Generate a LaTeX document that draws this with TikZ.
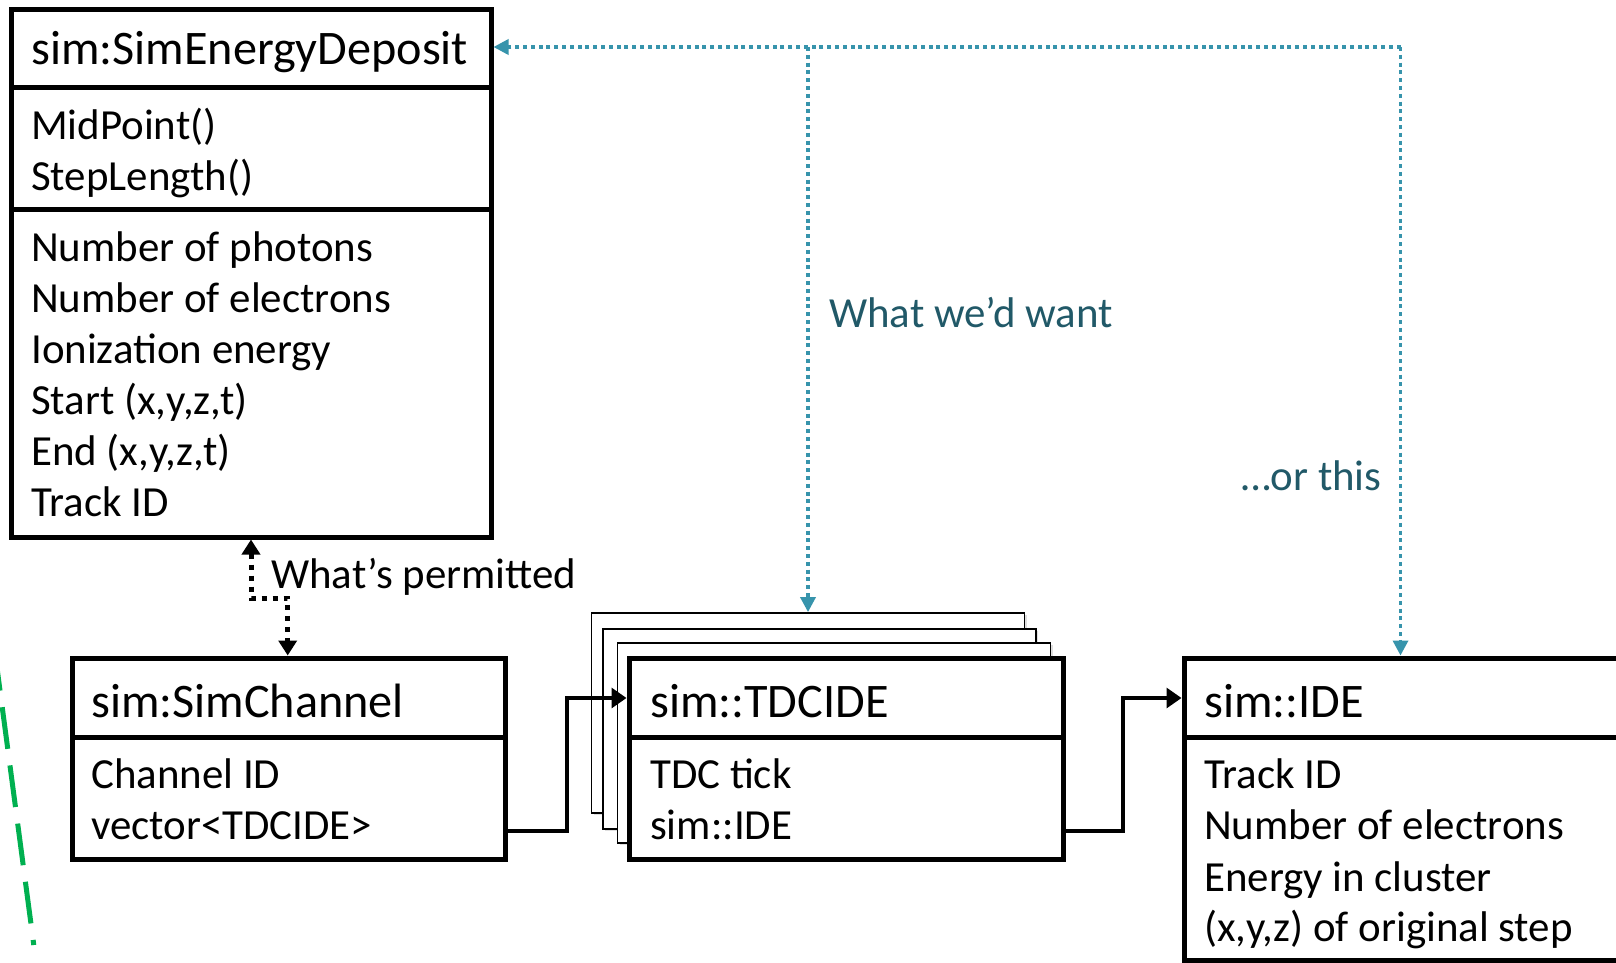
\documentclass[tikz,border=0pt]{standalone}
\usepackage{fontspec}
\setmainfont{Carlito}
\usetikzlibrary{arrows.meta,shadows}
\definecolor{tealtext}{RGB}{33,89,104}
\definecolor{tealline}{RGB}{55,148,172}
\definecolor{dashgreen}{RGB}{0,176,80}

\begin{document}
\begin{tikzpicture}[x=1pt,y=-1pt,
  classbox/.style={draw=black,line width=5pt,fill=white,inner sep=0pt},
  sheet/.style={draw=black,line width=1.8pt,fill=white,inner sep=0pt,
    minimum width=433pt,minimum height=200pt,
    drop shadow={shadow xshift=2pt,shadow yshift=-2pt,opacity=0.25}},
  divider/.style={line width=5pt},
  head/.style={anchor=base west,inner sep=0pt,font=\fontsize{48.2pt}{57pt}\selectfont},
  body/.style={anchor=base west,inner sep=0pt,font=\fontsize{42.9pt}{51pt}\selectfont},
  note/.style={body,text=tealtext},
  flow/.style={line width=3.2pt,-{Triangle[length=15pt,width=20pt]}},
  permit/.style={line width=5pt,dash pattern=on 5.5pt off 5.5pt,
    {Triangle[length=15pt,width=18pt]}-{Triangle[length=15pt,width=18pt]}},
  wish/.style={draw=tealline,line width=3.4pt,dash pattern=on 3.9pt off 3.9pt,
    -{Triangle[length=15pt,width=15pt]}},
]
\useasboundingbox (0,0) rectangle (1616,962);
\clip (0,0) rectangle (1616,962);
\fill[white] (0,0) rectangle (1616,962);

% ---------- sim:SimEnergyDeposit ----------
\node[classbox,minimum width=480pt,minimum height=527.5pt] (sed) at (251,273.25) {};
\draw[divider] (11,87) -- (491,87);
\draw[divider] (11,209) -- (491,209);
\node[head] (sedT) at (31,64) {sim:SimEnergyDeposit};
\node[body] (sedM1) at (31,139) {MidPoint()};
\node[body] (sedM2) at (31,190.5) {StepLength()};
\node[body] (sedA1) at (31,261.5) {Number of photons};
\node[body] (sedA2) at (31,312.5) {Number of electrons};
\node[body] (sedA3) at (31,363.5) {Ionization energy};
\node[body] (sedA4) at (31,414.5) {Start (x,y,z,t)};
\node[body] (sedA5) at (31,465.5) {End (x,y,z,t)};
\node[body] (sedA6) at (31,516.5) {Track ID};

% ---------- sim:SimChannel ----------
\node[classbox,minimum width=433pt,minimum height=201pt] (sch) at (288.5,758.5) {};
\draw[divider] (72,737) -- (505,737);
\node[head] (schT) at (91,717) {sim:SimChannel};
\node[body] (schA1) at (91,788) {Channel ID};
\node[body] (schA2) at (91,839.5) {vector<TDCIDE>};

% ---------- sim::TDCIDE (stack of entries) ----------
\node[sheet] (tdcb1) at (808,713) {};
\node[sheet] (tdcb2) at (819.5,729) {};
\node[sheet] (tdcb3) at (834,743) {};
\node[classbox,minimum width=434pt,minimum height=201pt] (tdc) at (846,758.5) {};
\draw[divider] (629,737) -- (1063,737);
\node[head] (tdcT) at (650,717) {sim::TDCIDE};
\node[body] (tdcA1) at (650,788) {TDC tick};
\node[body] (tdcA2) at (650,839.5) {sim::IDE};

% ---------- sim::IDE ----------
\node[classbox,minimum width=446pt,minimum height=302pt] (ide) at (1407,809) {};
\draw[divider] (1184,737) -- (1630,737);
\node[head] (ideT) at (1204,717) {sim::IDE};
\node[body] (ideA1) at (1204,788) {Track ID};
\node[body] (ideA2) at (1204,839.5) {Number of electrons};
\node[body] (ideA3) at (1204,891) {Energy in cluster};
\node[body] (ideA4) at (1204,941.5) {(x,y,z) of original step};

% ---------- containment arrows ----------
\coordinate (f1a) at (567,831);
\coordinate (f1b) at (567,698);
\draw[flow] (sch.east |- f1a) -- (f1a) -- (f1b) -- (tdc.west |- f1b);
\coordinate (f2a) at (1123,831);
\coordinate (f2b) at (1123,698);
\draw[flow] (tdc.east |- f2a) -- (f2a) -- (f2b) -- (ide.west |- f2b);

% ---------- permitted association ----------
\coordinate (pb1) at (251,598);
\coordinate (pb2) at (287.7,598);
\draw[permit] (sed.south -| pb1) -- (pb1) -- (pb2) -- (sch.north -| pb2);
\node[body] (permitT) at (271,588) {What’s permitted};

% ---------- desired associations ----------
\coordinate (jm) at (808,47);
\coordinate (jr) at (1400.5,47);
\draw[wish] (jr) -- (sed.east |- jr);
\draw[wish] (jm) -- (tdcb1.north -| jm);
\draw[wish] (jr) -- (ide.north -| jr);
\node[note] (wantT) at (829,327) {What we’d want};
\node[note] (orT) at (1241,490) {…or this};

% ---------- dashed boundary at the left ----------
\draw[dashgreen,line width=5pt,dash pattern=on 42pt off 16.7pt] (-5.5,649) -- (33.8,945);
\end{tikzpicture}
\end{document}
